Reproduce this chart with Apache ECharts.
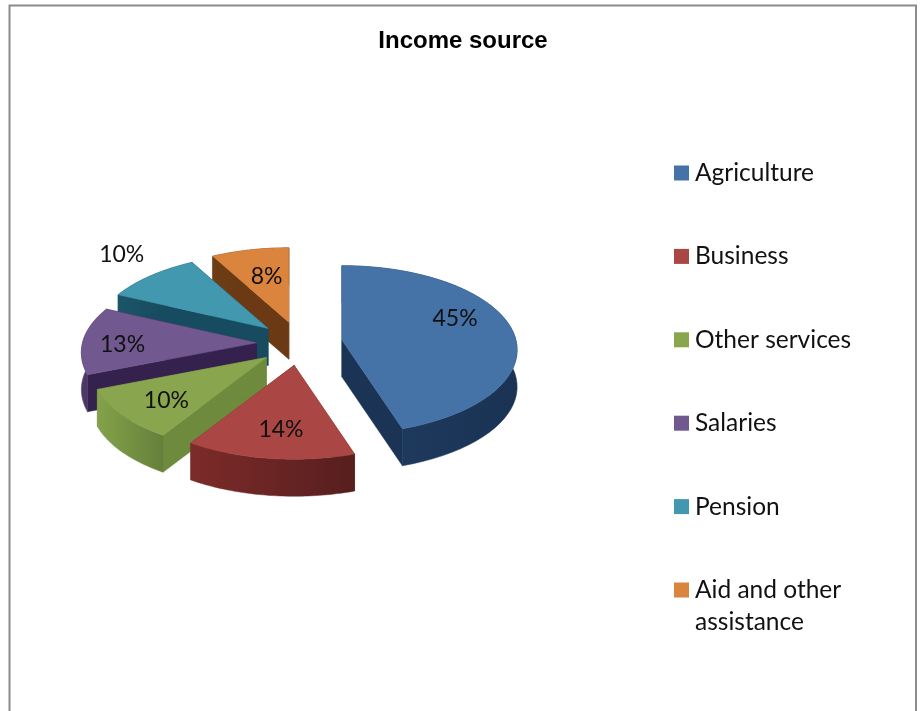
<!DOCTYPE html>
<html>
<head>
<meta charset="utf-8">
<script src="https://cdn.jsdelivr.net/npm/echarts@6/dist/echarts.min.js"></script>
<style>html,body{margin:0;padding:0;background:#fff}#c{width:922px;height:711px}</style>
</head>
<body>
<div id="c"></div>
<script>
// Income source shares, in percent
const categories = ['Agriculture', 'Business', 'Other services', 'Salaries', 'Pension', 'Aid and other\nassistance'];
const shares = [45, 14, 10, 13, 10, 8];

// Face colours for each slice
const topColors = ['#4572A7', '#AA4643', '#89A54E', '#71588F', '#4198AF', '#DB843D'];
const rimColors = [['#1F3C60', '#1A3354'], ['#7C2B29', '#571E1E'], ['#84A24A', '#65803A'], ['#4E3A6A', '#3F2C58'], ['#1C5468', '#164658'], ['#6E3E16', '#5E3310']];
const cutColors = ['#1B3354', '#7A2A28', '#6D8A3D', '#34214E', '#174C60', '#6B3A14'];

// Where each percentage sits on its slice: bearing in degrees and reach as a share of the radius
const labelBearing = [67, 185.5, 228, 269, 317.6, 347.6];
const labelReach = [0.69, 0.77, 0.756, 0.753, 1.22, 0.58];

// Tilted disc used to project the slices
const disc = { cx: 299.5, cy: 343.5, rx: 174, ry: 83, persp: 0.116, depth: 37, pullX: 43, pullY: 22 };
const total = shares.reduce((a, b) => a + b, 0);

function rad(d) { return d * Math.PI / 180; }

function onDisc(apex, deg) {
  const u = Math.sin(rad(deg)), v = -Math.cos(rad(deg));
  const s = 1 / (1 - disc.persp * v);
  return [apex[0] + disc.rx * u * s, apex[1] + disc.ry * v * s];
}

function drop(p) { return [p[0], p[1] + disc.depth]; }

function renderSlice(index) {
  return function (params, api) {
    const value = api.value(0);
    const before = shares.slice(0, index).reduce((a, b) => a + b, 0);
    const from = before / total * 360;
    const to = (before + value) / total * 360;
    const mid = (from + to) / 2;
    const apex = [
      disc.cx + disc.pullX * Math.sin(rad(mid)),
      disc.cy - disc.pullY * Math.cos(rad(mid))
    ];
    const arc = [];
    const steps = 48;
    for (let i = 0; i <= steps; i++) arc.push(onDisc(apex, from + (to - from) * i / steps));
    const first = arc[0], last = arc[arc.length - 1];
    const wall = arc.concat(arc.map(drop).reverse());
    const xs = arc.map(p => p[0]);
    const xMin = Math.min.apply(null, xs), xMax = Math.max.apply(null, xs);
    const labelPos = [
      apex[0] + 178 * labelReach[index] * Math.sin(rad(labelBearing[index])),
      apex[1] + 1 - disc.ry * labelReach[index] * Math.cos(rad(labelBearing[index]))
    ];
    const poly = (points, fill) => ({ type: 'polygon', shape: { points }, style: { fill, stroke: fill, lineWidth: 0.5 } });
    return {
      type: 'group',
      children: [
        poly([apex, first, drop(first), drop(apex)], cutColors[index]),
        poly([apex, last, drop(last), drop(apex)], cutColors[index]),
        poly(wall, {
          type: 'linear', global: true, x: xMin, y: 0, x2: xMax, y2: 0,
          colorStops: [{ offset: 0, color: rimColors[index][0] }, { offset: 1, color: rimColors[index][1] }]
        }),
        poly([apex].concat(arc), topColors[index]),
        {
          type: 'text', z2: 100,
          style: {
            x: labelPos[0], y: labelPos[1], text: value + '%', fill: '#111',
            font: '23px Lato', align: 'center', verticalAlign: 'middle'
          }
        }
      ]
    };
  };
}

const legendBase = {
  orient: 'vertical', left: 674, height: 640, padding: 0, itemWidth: 15, itemHeight: 15, itemGap: 51.4,
  icon: 'rect', selectedMode: false,
  textStyle: { fontFamily: 'Lato', fontSize: 24.5, lineHeight: 32, color: '#111', padding: [0, 0, 0, 1] }
};

const chart = echarts.init(document.getElementById('c'), null, { renderer: 'canvas' });
chart.setOption({
  animation: false,
  backgroundColor: '#fff',
  title: {
    text: 'Income source', left: 458, top: 24, textAlign: 'center',
    textStyle: { fontFamily: 'Liberation Sans', fontSize: 24, fontWeight: 'bold', color: '#000' }
  },
  legend: [
    Object.assign({}, legendBase, { top: 157, data: categories.slice(0, 5) }),
    // the wrapped name gets its own block; the blank first line keeps the swatch level with its first line
    Object.assign({}, legendBase, {
      top: 542, data: categories.slice(5),
      formatter: name => '\n' + name
    })
  ],
  graphic: [{
    type: 'polyline', silent: true,
    shape: { points: [[9.5, 711], [9.5, 5.5], [916, 5.5], [916, 711]] },
    style: { stroke: '#8C8C8C', lineWidth: 2, fill: null }
  }],
  series: categories.map((name, i) => ({
    type: 'custom', name, coordinateSystem: 'none', silent: true,
    z: 2 + (i === 0 ? 6 : 6 - i),
    itemStyle: { color: topColors[i] },
    renderItem: renderSlice(i),
    data: [[shares[i]]]
  }))
});
</script>
</body>
</html>
